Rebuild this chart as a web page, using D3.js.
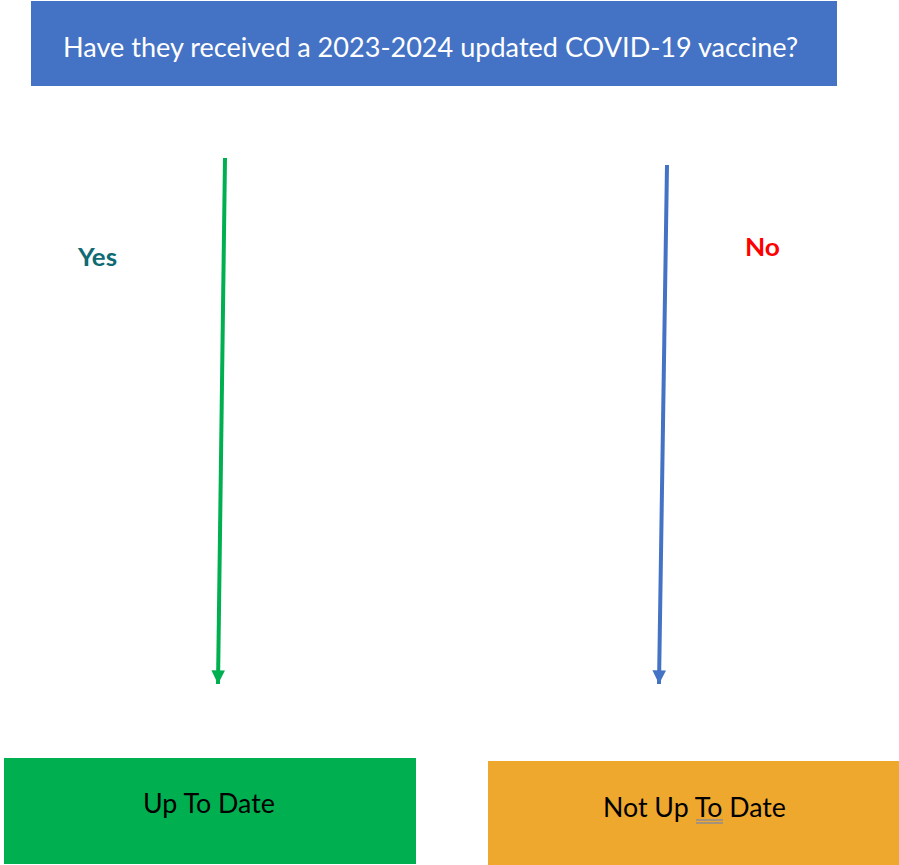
<!DOCTYPE html>
<html>
<head>
<meta charset="utf-8">
<script src="https://cdn.jsdelivr.net/npm/d3@7"></script>
<style>
  body { margin: 0; background: #fff; }
  svg { display: block; font-family: Lato, "Open Sans", sans-serif; }
</style>
</head>
<body>
<div id="chart"></div>
<script>
// flowchart content
const question = "Have they received a 2023-2024 updated COVID-19 vaccine?";
const answers = ["Yes", "No"];
const answerColors = ["#0E6B73", "#FF0000"];
const arrowColors = ["#00B050", "#4472C4"];
const outcomes = ["Up To Date", "Not Up To Date"];
const outcomeColors = ["#00B050", "#EEA82D"];

const width = 899, height = 865;

const svg = d3.select("#chart").append("svg")
    .attr("width", width)
    .attr("height", height);

// arrow heads, one per colour
const defs = svg.append("defs");
arrowColors.forEach((c, i) => {
    defs.append("marker")
        .attr("id", "head" + i)
        .attr("viewBox", "0 0 10 10")
        .attr("refX", 10).attr("refY", 5)
        .attr("markerWidth", 3.6).attr("markerHeight", 3.4)
        .attr("orient", "auto")
        .append("path")
        .attr("d", "M0,0 L10,5 L0,10 Z")
        .attr("fill", c);
});

// question box
svg.append("rect")
    .attr("x", 31).attr("y", 1)
    .attr("width", 806).attr("height", 85)
    .attr("fill", "#4472C4");

svg.append("text")
    .attr("x", 430.5).attr("y", 57)
    .attr("text-anchor", "middle")
    .attr("fill", "#fff")
    .attr("font-size", 27)
    .attr("textLength", 735)
    .attr("lengthAdjust", "spacingAndGlyphs")
    .text(question);

// arrows
const arrowStart = [[225, 158], [667, 165]];
const arrowEnd = [[218, 684], [659, 684]];

svg.selectAll("line.arrow")
    .data(answers)
    .enter().append("line")
    .attr("class", "arrow")
    .attr("x1", (d, i) => arrowStart[i][0])
    .attr("y1", (d, i) => arrowStart[i][1])
    .attr("x2", (d, i) => arrowEnd[i][0])
    .attr("y2", (d, i) => arrowEnd[i][1])
    .attr("stroke", (d, i) => arrowColors[i])
    .attr("stroke-width", 4)
    .attr("marker-end", (d, i) => `url(#head${i})`);

// answer labels
const answerPos = [[97.5, 266], [762.5, 256]];
const answerLen = [39, 35];
svg.selectAll("text.answer")
    .data(answers)
    .enter().append("text")
    .attr("class", "answer")
    .attr("x", (d, i) => answerPos[i][0])
    .attr("y", (d, i) => answerPos[i][1])
    .attr("text-anchor", "middle")
    .attr("font-weight", "bold")
    .attr("font-size", 25)
    .attr("fill", (d, i) => answerColors[i])
    .attr("textLength", (d, i) => answerLen[i])
    .attr("lengthAdjust", "spacingAndGlyphs")
    .text(d => d);

// outcome boxes
const boxes = [
    { x: 4, y: 758, w: 412, h: 106, tx: 209, ty: 813, tl: 132 },
    { x: 488, y: 761, w: 411, h: 104, tx: 694.5, ty: 817, tl: 183 }
];

const out = svg.selectAll("g.outcome")
    .data(outcomes)
    .enter().append("g")
    .attr("class", "outcome");

out.append("rect")
    .attr("x", (d, i) => boxes[i].x)
    .attr("y", (d, i) => boxes[i].y)
    .attr("width", (d, i) => boxes[i].w)
    .attr("height", (d, i) => boxes[i].h)
    .attr("fill", (d, i) => outcomeColors[i]);

out.append("text")
    .attr("x", (d, i) => boxes[i].tx)
    .attr("y", (d, i) => boxes[i].ty)
    .attr("text-anchor", "middle")
    .attr("font-size", 27)
    .attr("fill", "#000")
    .attr("textLength", (d, i) => boxes[i].tl)
    .attr("lengthAdjust", "spacingAndGlyphs")
    .text(d => d);

// spell-check double underline under "To"
[820, 823].forEach(y => {
    svg.append("line")
        .attr("x1", 696).attr("x2", 723)
        .attr("y1", y).attr("y2", y)
        .attr("stroke", "#5B7FC8")
        .attr("stroke-width", 1);
});
</script>
</body>
</html>
